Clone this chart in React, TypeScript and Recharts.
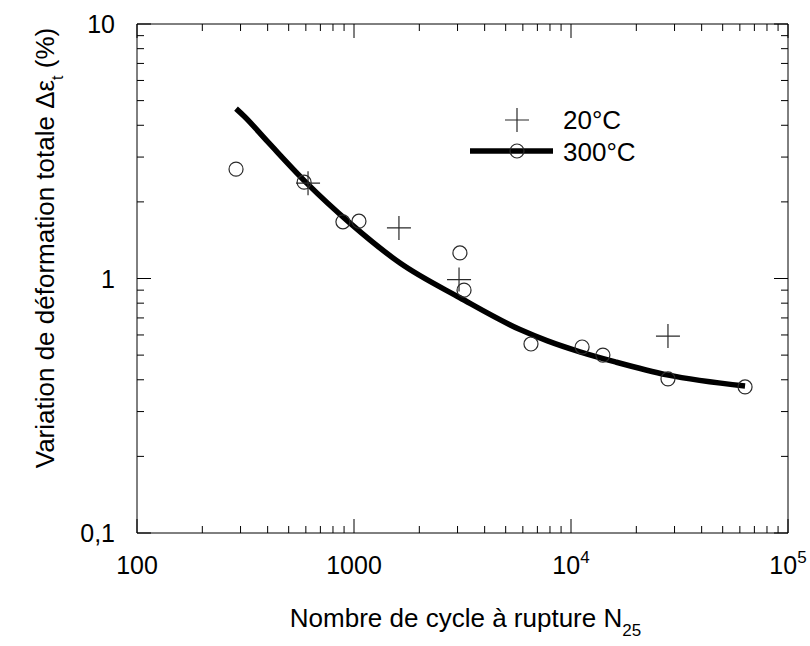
import { ComposedChart, Line, Scatter, XAxis, YAxis, Legend } from 'recharts';

// tick positions (log axes, minor ticks included)
const xTicks = [
  100, 200, 300, 400, 500, 600, 700, 800, 900,
  1000, 2000, 3000, 4000, 5000, 6000, 7000, 8000, 9000,
  10000, 20000, 30000, 40000, 50000, 60000, 70000, 80000, 90000, 100000,
];
const yTicks = [
  0.1, 0.2, 0.3, 0.4, 0.5, 0.6, 0.7, 0.8, 0.9,
  1, 2, 3, 4, 5, 6, 7, 8, 9, 10,
];
const xMajor = [100, 1000, 10000, 100000];
const xMajorBase = ['100', '1000', '10', '10'];
const xMajorExp = ['', '', '4', '5'];
const yMajor = [0.1, 1, 10];
const yMajorLabels = ['0,1', '1', '10'];

// measured points
const pts20 = [
  { n: 614, e: 2.37 },
  { n: 1611, e: 1.58 },
  { n: 3048, e: 0.99 },
  { n: 27980, e: 0.594 },
];
const pts300 = [
  { n: 286, e: 2.69 },
  { n: 589, e: 2.39 },
  { n: 889, e: 1.67 },
  { n: 1054, e: 1.68 },
  { n: 3077, e: 1.26 },
  { n: 3214, e: 0.9 },
  { n: 6540, e: 0.553 },
  { n: 11250, e: 0.538 },
  { n: 14030, e: 0.5 },
  { n: 27980, e: 0.403 },
  { n: 63400, e: 0.375 },
];
// fitted curve
const fit = [
  { n: 286, e: 4.65 },
  { n: 311, e: 4.35 },
  { n: 400, e: 3.45 },
  { n: 606, e: 2.37 },
  { n: 959, e: 1.65 },
  { n: 1630, e: 1.15 },
  { n: 3077, e: 0.84 },
  { n: 5820, e: 0.63 },
  { n: 7740, e: 0.57 },
  { n: 10990, e: 0.515 },
  { n: 16000, e: 0.47 },
  { n: 27700, e: 0.418 },
  { n: 63400, e: 0.378 },
];

const FONT = "'Liberation Sans', Arial, sans-serif";
const INK = '#000';
const MARK = '#2a2a2a';
const MINOR = 7;
const MAJOR = 14;

const idxOf = (arr: number[], v: number) => arr.findIndex((m) => Math.abs(m - v) < 1e-9 * m);

function XTick(props: any) {
  const { x, y, payload, orientation } = props;
  const i = idxOf(xMajor, payload.value);
  const len = i >= 0 ? MAJOR : MINOR;
  const dir = orientation === 'top' ? 1 : -1;
  return (
    <g>
      <line x1={x} y1={y} x2={x} y2={y + dir * len} stroke={INK} strokeWidth={1} />
      {orientation !== 'top' && i >= 0 ? (
        <text x={x} y={y + 41} textAnchor="middle" fontFamily={FONT} fontSize={25} fill="#000">
          {xMajorBase[i]}
          {xMajorExp[i] ? (
            <tspan dy={-11} fontSize={17}>
              {xMajorExp[i]}
            </tspan>
          ) : null}
        </text>
      ) : null}
    </g>
  );
}

function YTick(props: any) {
  const { x, y, payload, orientation } = props;
  const i = idxOf(yMajor, payload.value);
  const len = i >= 0 ? MAJOR : MINOR;
  const dir = orientation === 'right' ? -1 : 1;
  return (
    <g>
      <line x1={x} y1={y} x2={x + dir * len} y2={y} stroke={INK} strokeWidth={1} />
      {orientation !== 'right' && i >= 0 ? (
        <text x={x - 22} y={y + 9} textAnchor="end" fontFamily={FONT} fontSize={25} fill="#000">
          {yMajorLabels[i]}
        </text>
      ) : null}
    </g>
  );
}

const PlusShape = (p: any) => (
  <path
    d={`M${p.cx - 12},${p.cy}h24M${p.cx},${p.cy - 12}v24`}
    stroke={MARK}
    strokeWidth={1.2}
    fill="none"
  />
);
const CircleShape = (p: any) => (
  <circle cx={p.cx} cy={p.cy} r={7} fill="none" stroke={MARK} strokeWidth={1.2} />
);

const LegendBox = () => (
  <svg width={200} height={70} style={{ overflow: 'visible' }}>
    <path d="M57,8v24M45,20h24" stroke={MARK} strokeWidth={1.2} fill="none" />
    <text x={103} y={29} fontFamily={FONT} fontSize={26} fill="#000">
      20°C
    </text>
    <line x1={10} y1={51} x2={93} y2={51} stroke={INK} strokeWidth={5.5} />
    <circle cx={57} cy={51} r={7} fill="none" stroke={MARK} strokeWidth={1.2} />
    <text x={103} y={61} fontFamily={FONT} fontSize={26} fill="#000">
      300°C
    </text>
  </svg>
);

export default function App() {
  return (
    <div style={{ position: 'absolute', left: 0, top: 0, background: '#fff' }}>
      <ComposedChart width={810} height={646} margin={{ top: 23, right: 21, left: 0, bottom: 0 }}>
        <XAxis
          xAxisId="b"
          dataKey="n"
          type="number"
          scale="log"
          domain={[100, 100000]}
          allowDataOverflow
          ticks={xTicks}
          interval={0}
          tickSize={0}
          tickMargin={0}
          tick={<XTick orientation="bottom" />}
          height={113}
          axisLine={{ stroke: INK, strokeWidth: 1 }}
          label={{
            content: (lp: any) => {
              const vb = lp.viewBox || { x: 137, y: 533, width: 651 };
              return (
                <text
                  x={vb.x + vb.width / 2 + 3}
                  y={vb.y + 94}
                  textAnchor="middle"
                  fontFamily={FONT}
                  fontSize={26}
                  fill="#000"
                >
                  Nombre de cycle à rupture N
                  <tspan dy={9} fontSize={17}>
                    25
                  </tspan>
                </text>
              );
            },
          }}
        />
        <XAxis
          xAxisId="t"
          orientation="top"
          dataKey="n"
          type="number"
          scale="log"
          domain={[100, 100000]}
          allowDataOverflow
          ticks={xTicks}
          interval={0}
          tickSize={0}
          tickMargin={0}
          tick={<XTick orientation="top" />}
          height={1}
          axisLine={{ stroke: INK, strokeWidth: 1 }}
        />
        <YAxis
          yAxisId="l"
          dataKey="e"
          type="number"
          scale="log"
          domain={[0.1, 10]}
          allowDataOverflow
          ticks={yTicks}
          interval={0}
          tickSize={0}
          tickMargin={0}
          tick={<YTick orientation="left" />}
          width={137}
          axisLine={{ stroke: INK, strokeWidth: 1 }}
          label={{
            content: () => (
              <text
                transform="rotate(-90 45 248)"
                x={45}
                y={257}
                textAnchor="middle"
                fontFamily={FONT}
                fontSize={26}
                fill="#000"
              >
                Variation de déformation totale Δε
                <tspan dy={9} fontSize={16}>
                  t
                </tspan>
                <tspan dy={-9}> (%)</tspan>
              </text>
            ),
          }}
        />
        <YAxis
          yAxisId="r"
          orientation="right"
          dataKey="e"
          type="number"
          scale="log"
          domain={[0.1, 10]}
          allowDataOverflow
          ticks={yTicks}
          interval={0}
          tickSize={0}
          tickMargin={0}
          tick={<YTick orientation="right" />}
          width={1}
          axisLine={{ stroke: INK, strokeWidth: 1 }}
        />
        <Legend
          layout="horizontal"
          verticalAlign="middle"
          align="center"
          content={() => <LegendBox />}
          wrapperStyle={{ position: 'absolute', left: 460, top: 100, width: 200, height: 70 }}
        />
        <Line
          xAxisId="b"
          yAxisId="l"
          data={fit}
          dataKey="e"
          type="monotone"
          stroke={INK}
          strokeWidth={5.5}
          dot={false}
          activeDot={false}
          legendType="none"
          isAnimationActive={false}
        />
        <Scatter
          xAxisId="b"
          yAxisId="l"
          name="20°C"
          data={pts20}
          dataKey="e"
          shape={PlusShape}
          isAnimationActive={false}
        />
        <Scatter
          xAxisId="b"
          yAxisId="l"
          name="300°C"
          data={pts300}
          dataKey="e"
          shape={CircleShape}
          isAnimationActive={false}
        />
      </ComposedChart>
    </div>
  );
}
